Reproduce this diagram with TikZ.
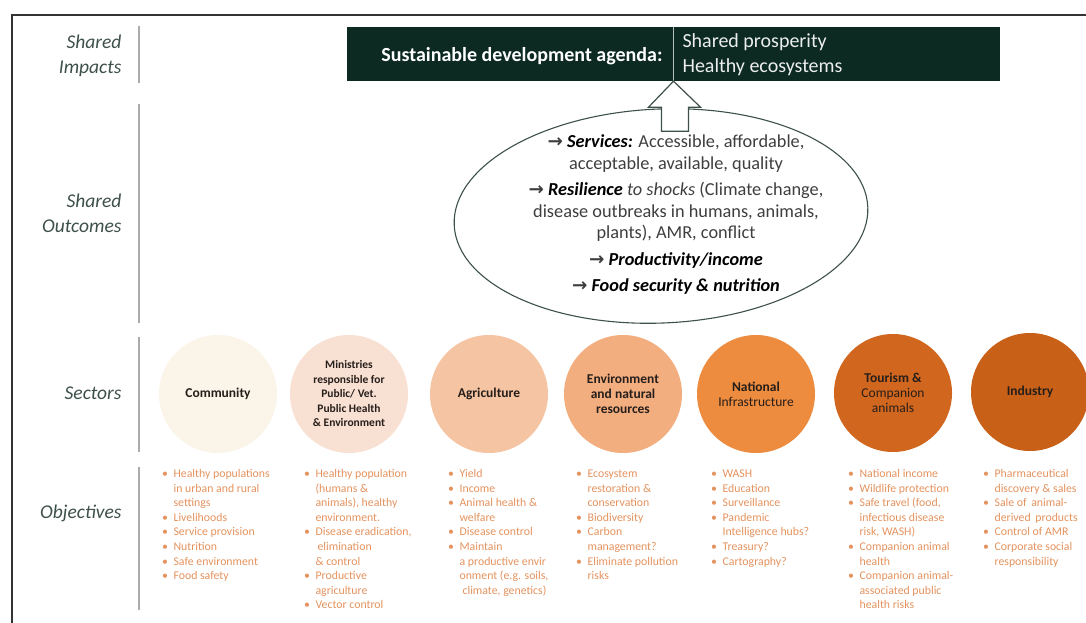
\documentclass[tikz,border=0pt]{standalone}
\usepackage{fontspec}
\setmainfont{Carlito}
\newfontfamily\arrowfont{DejaVu Sans}
\usetikzlibrary{shapes.geometric}
\definecolor{deepgreen}{RGB}{12,42,33}
\definecolor{labelgrey}{RGB}{62,80,74}
\definecolor{rulegrey}{RGB}{172,172,172}
\definecolor{bodygrey}{RGB}{62,62,62}
\definecolor{objorange}{RGB}{228,146,94}
\definecolor{sectortext}{RGB}{38,30,26}
\definecolor{secA}{RGB}{251,244,232}
\definecolor{secB}{RGB}{248,224,211}
\definecolor{secC}{RGB}{245,196,162}
\definecolor{secD}{RGB}{243,174,128}
\definecolor{secE}{RGB}{237,139,62}
\definecolor{secF}{RGB}{209,102,30}
\definecolor{secG}{RGB}{200,96,24}
\newcommand{\outarrow}{{\arrowfont\bfseries →}}
\newcommand{\keyterm}[1]{{\color{black}\bfseries\itshape #1}}
\newcommand{\objlist}[1]{\fontsize{11.8}{14.6}\selectfont
  \begin{tabular}{@{}l@{\hspace{5.5pt}}l@{}}#1\end{tabular}}
\begin{document}
\begin{tikzpicture}[x=1pt,y=-1pt,
    sidelabel/.style={anchor=east,align=right,text=labelgrey,
      font=\fontsize{19.5}{25}\selectfont\itshape},
    rowrule/.style={rulegrey,line width=1.6pt},
    sector/.style={circle,minimum size=118,inner sep=0,align=center,
      text=sectortext,font=\fontsize{13.5}{15}\selectfont\bfseries},
    objective/.style={anchor=north west,inner sep=0,text=objorange},
    blockarrow/.style={draw=labelgrey,fill=white,line width=1.2pt,line join=miter}]
\useasboundingbox (0,0) rectangle (1086,623);
\draw[line width=1.5pt,black!80] (1086,15) -- (12,15) -- (12,623);

\node[sidelabel] (impacts) at (125,56) {Shared\\Impacts};
\node[sidelabel] (outlabel) at (125,213) {Shared\\Outcomes};
\node[sidelabel] (seclabel) at (125,393) {Sectors};
\node[sidelabel] (objlabel) at (125,513) {Objectives};
\draw[rowrule] (139,26) -- (139,83);
\draw[rowrule] (139,104) -- (139,323);
\draw[rowrule] (139,337) -- (139,452);
\draw[rowrule] (139,467) -- (139,610);

\node[fill=deepgreen,minimum width=653,minimum height=54,inner sep=0] (agenda) at (673.5,54) {};
\draw[white!70!deepgreen,line width=0.8pt] (agenda.north) -- (agenda.south);
\node[anchor=east,text=white,font=\fontsize{20}{25}\selectfont\bfseries] (sda) at (666,56) {Sustainable development agenda:};
\node[anchor=west,align=left,text=white!92!deepgreen,font=\fontsize{20}{25}\selectfont] (goals) at (679,55) {Shared prosperity\\Healthy ecosystems};

\node[draw=labelgrey,line width=1.1pt,ellipse,rotate=2.5,minimum width=414,minimum height=214] (outcomes) at (661,216) {};
\draw[blockarrow] (agenda.south) -- ++(27,26) -- ++(-12,0) -- ++(0,24) -- ++(-27,0) -- ++(0,-24) -- ++(-13,0) -- cycle;
\node[align=center,text=bodygrey,font=\fontsize{18.3}{21.5}\selectfont] (outtext) at (676,215)
  {\outarrow\ \keyterm{Services:} Accessible, affordable,\\
   acceptable, available, quality\\[5pt]
   \outarrow\ \keyterm{Resilience} \textit{to shocks} (Climate change,\\
   disease outbreaks in humans, animals,\\
   plants), AMR, conflict\\[5pt]
   \outarrow\ \keyterm{Productivity/income}\\[5pt]
   \outarrow\ \keyterm{Food security \& nutrition}};

\node[sector,fill=secA] (community) at (218,394) {Community};
\node[sector,fill=secB,font=\fontsize{11.5}{14.5}\selectfont\bfseries] (ministries) at (349,394)
  {Ministries\\responsible for\\Public/ Vet.\\Public Health\\\& Environment};
\node[sector,fill=secC] (agriculture) at (489,394) {Agriculture};
\node[sector,fill=secD] (environment) at (623,394) {Environment\\and natural\\resources};
\node[sector,fill=secE] (infrastructure) at (756,394) {National\\\mdseries Infrastructure};
\node[sector,fill=secF] (tourism) at (893,393) {Tourism \&\\\mdseries Companion\\\mdseries animals};
\node[sector,fill=secG] (industry) at (1030,392) {Industry};

\node[objective] (objcommunity) at (162,467) {\objlist{
  \textbullet & Healthy populations\\ & in urban and rural\\ & settings\\
  \textbullet & Livelihoods\\ \textbullet & Service provision\\
  \textbullet & Nutrition\\ \textbullet & Safe environment\\ \textbullet & Food safety}};
\node[objective] (objministries) at (304,467) {\objlist{
  \textbullet & Healthy population\\ & (humans \&\\ & animals), healthy\\ & environment.\\
  \textbullet & Disease eradication,\\ & \hspace{2pt}elimination\\ & \& control\\
  \textbullet & Productive\\ & agriculture\\ \textbullet & Vector control}};
\node[objective] (objagriculture) at (448,467) {\objlist{
  \textbullet & Yield\\ \textbullet & Income\\ \textbullet & Animal health \&\\ & welfare\\
  \textbullet & Disease control\\ \textbullet & Maintain\\ & a productive envir\\
  & onment (e.g. soils,\\ & \hspace{3pt}climate, genetics)}};
\node[objective] (objenvironment) at (576,467) {\objlist{
  \textbullet & Ecosystem\\ & restoration \&\\ & conservation\\ \textbullet & Biodiversity\\
  \textbullet & Carbon\\ & management?\\ \textbullet & Eliminate pollution\\ & risks}};
\node[objective] (objinfrastructure) at (711,467) {\objlist{
  \textbullet & WASH\\ \textbullet & Education\\ \textbullet & Surveillance\\
  \textbullet & Pandemic\\ & Intelligence hubs?\\ \textbullet & Treasury?\\ \textbullet & Cartography?}};
\node[objective] (objtourism) at (848,467) {\objlist{
  \textbullet & National income\\ \textbullet & Wildlife protection\\
  \textbullet & Safe travel (food,\\ & infectious disease\\ & risk, WASH)\\
  \textbullet & Companion animal\\ & health\\ \textbullet & Companion animal-\\
  & associated public\\ & health risks}};
\node[objective] (objindustry) at (983,467) {\objlist{
  \textbullet & Pharmaceutical\\ & discovery \& sales\\ \textbullet & Sale of \,animal-\\
  & derived \,products\\ \textbullet & Control of AMR\\ \textbullet & Corporate social\\
  & responsibility}};
\end{tikzpicture}
\end{document}
